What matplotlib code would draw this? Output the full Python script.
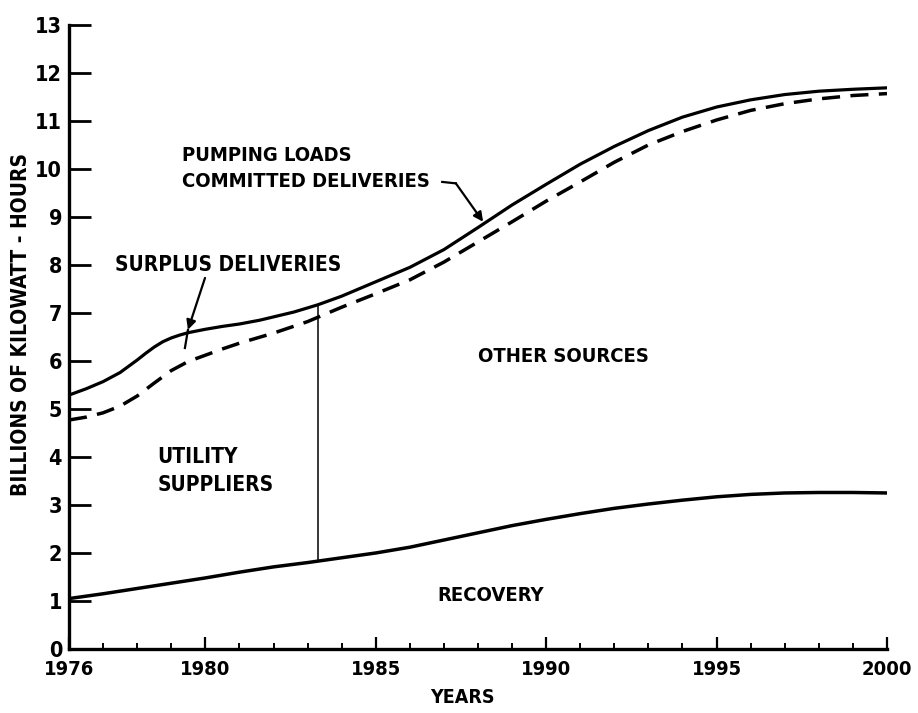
"""Recreate the scanned pumping-load chart (billions of kWh, 1976-2000)."""

import matplotlib
matplotlib.use("Agg")
import matplotlib.pyplot as plt
import numpy as np

# Pumping loads (solid upper curve)
pump_years = [1976.0, 1976.5, 1977.0, 1977.5, 1978.0, 1978.25, 1978.5, 1978.75,
              1979.0, 1979.25, 1979.5, 1980.0, 1980.5, 1981.0, 1981.6, 1982.6,
              1983.3, 1984.0, 1985.0, 1986.0, 1987.0, 1988.0, 1989.0, 1990.0,
              1991.0, 1992.0, 1993.0, 1994.0, 1995.0, 1996.0, 1997.0, 1998.0,
              1999.0, 2000.0]
pump_vals = [5.29, 5.42, 5.57, 5.76, 6.02, 6.16, 6.29, 6.40,
             6.48, 6.54, 6.59, 6.66, 6.72, 6.77, 6.85, 7.02,
             7.17, 7.35, 7.65, 7.95, 8.32, 8.78, 9.25, 9.68,
             10.10, 10.47, 10.80, 11.08, 11.29, 11.44, 11.55, 11.62,
             11.66, 11.69]

# Committed deliveries (dashed curve)
comm_years = [1976.0, 1976.5, 1977.0, 1977.5, 1978.0, 1978.5, 1979.0, 1979.5,
              1980.0, 1980.5, 1981.0, 1982.0, 1983.0, 1984.0, 1985.0, 1986.0,
              1987.0, 1988.0, 1989.0, 1990.0, 1991.0, 1992.0, 1993.0, 1994.0,
              1995.0, 1996.0, 1997.0, 1998.0, 1999.0, 2000.0]
comm_vals = [4.77, 4.83, 4.92, 5.06, 5.27, 5.54, 5.80, 5.99,
             6.12, 6.25, 6.37, 6.58, 6.82, 7.12, 7.40, 7.69,
             8.06, 8.48, 8.90, 9.33, 9.73, 10.14, 10.50, 10.78,
             11.02, 11.22, 11.36, 11.46, 11.53, 11.57]

# Recovery (solid lower curve)
rec_years = [1976, 1977, 1978, 1979, 1980, 1981, 1982, 1983, 1984, 1985, 1986,
             1987, 1988, 1989, 1990, 1991, 1992, 1993, 1994, 1995, 1996, 1997,
             1998, 1999, 2000]
rec_vals = [1.05, 1.15, 1.26, 1.37, 1.48, 1.60, 1.71, 1.80, 1.90, 2.00, 2.12,
            2.27, 2.42, 2.57, 2.70, 2.82, 2.93, 3.02, 3.10, 3.17, 3.22, 3.25,
            3.26, 3.26, 3.25]

DIVIDER_YEAR = 1983.3
year_ticks = [1976, 1980, 1985, 1990, 1995, 2000]
kwh_ticks = list(range(0, 14))

INK = "black"
# Condensed bold DejaVu stands in for the typewriter-style lettering
plt.rcParams["font.family"] = ["DejaVu Sans"]
plt.rcParams["font.stretch"] = "condensed"
plt.rcParams["font.weight"] = "bold"
plt.rcParams["axes.labelweight"] = "bold"

fig = plt.figure(figsize=(9.18, 7.13), dpi=100)
ax = fig.add_axes([0.0752, 0.0898, 0.8910, 0.8752])

ax.plot(pump_years, pump_vals, color=INK, lw=2.3)
ax.plot(comm_years, comm_vals, color=INK, lw=2.5, dashes=(5.2, 3.0))
ax.plot(rec_years, rec_vals, color=INK, lw=2.5)

# Thin divider between utility suppliers and other sources
div_lo = np.interp(DIVIDER_YEAR, rec_years, rec_vals)
div_hi = np.interp(DIVIDER_YEAR, pump_years, pump_vals)
ax.plot([DIVIDER_YEAR, DIVIDER_YEAR], [div_lo, div_hi], color=INK, lw=1.1)

ax.set_xlim(1976, 2000)
ax.set_ylim(0, 13)
ax.set_xticks(year_ticks)
ax.set_xticks(range(1976, 2001), minor=True)
ax.set_yticks(kwh_ticks)
ax.tick_params(axis="y", direction="in", length=16, width=2.0, pad=5,
               labelsize=15.5, colors=INK)
ax.tick_params(axis="x", which="major", direction="in", length=9, width=1.6,
               pad=8, labelsize=14.5, colors=INK)
ax.tick_params(axis="x", which="minor", direction="in", length=4, width=1.4)

for side in ("top", "right"):
    ax.spines[side].set_visible(False)
for side in ("left", "bottom"):
    ax.spines[side].set_linewidth(2.4)

ax.set_xlabel("YEARS", fontsize=14)
ax.xaxis.set_label_coords(0.481, -0.062)
ax.set_ylabel("BILLIONS OF KILOWATT - HOURS", fontsize=15)
ax.yaxis.set_label_coords(-0.046, 0.52)

txt = dict(fontsize=14.5, color=INK)
ax.text(1979.3, 10.29, "PUMPING LOADS", ha="left", va="center", **txt)
ax.text(1979.3, 9.73, "COMMITTED DELIVERIES", ha="left", va="center", **txt)
ax.text(1977.35, 8.0, "SURPLUS DELIVERIES", ha="left", va="center",
        fontsize=15, color=INK)
ax.text(1988.0, 6.1, "OTHER SOURCES", ha="left", va="center", **txt)
ax.text(1978.6, 4.0, "UTILITY", ha="left", va="center", fontsize=15, color=INK)
ax.text(1978.6, 3.42, "SUPPLIERS", ha="left", va="center", fontsize=15,
        color=INK)
ax.text(1986.8, 1.12, "RECOVERY", ha="left", va="center", **txt)

# Leader for committed deliveries: short hook then arrow to the curve
ax.plot([1986.95, 1987.35], [9.73, 9.70], color=INK, lw=1.6)
ax.annotate("", xy=(1988.15, 8.9), xytext=(1987.35, 9.70),
            arrowprops=dict(arrowstyle="-|>", color=INK, lw=1.6,
                            mutation_scale=14, shrinkA=0, shrinkB=0))

# Leader for surplus deliveries: crosses the solid curve into the gap
ax.plot([1979.49, 1979.40], [6.65, 6.27], color=INK, lw=1.6)
ax.annotate("", xy=(1979.49, 6.65), xytext=(1979.99, 7.73),
            arrowprops=dict(arrowstyle="-|>", color=INK, lw=1.6,
                            mutation_scale=14, shrinkA=0, shrinkB=0))

fig.savefig("out.png", dpi=100, facecolor="white")
